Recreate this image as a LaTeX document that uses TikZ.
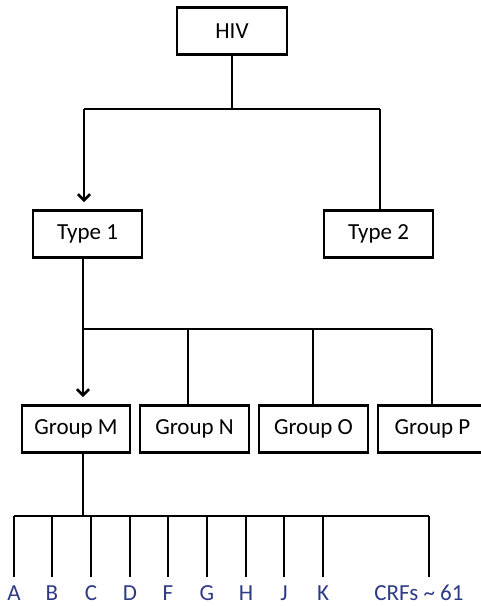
\documentclass[tikz,border=0pt]{standalone}
\usepackage{fontspec}
\setmainfont{Carlito}
\usetikzlibrary{arrows.meta}
\definecolor{leafblue}{RGB}{47,58,135}

\begin{document}
\begin{tikzpicture}[x=1pt, y=-1pt, line width=2.8pt,
  box/.style={draw, line width=2.3pt, inner sep=0pt, minimum height=47pt,
              font=\fontsize{23}{27}\selectfont},
  leaf/.style={text=leafblue, inner sep=0pt, anchor=base,
               font=\fontsize{23}{27}\selectfont},
  arr/.style={-{Straight Barb[length=6pt, width=12pt, line width=2.6pt]}}]
\useasboundingbox (0,0) rectangle (481,606);
\clip (0,0) rectangle (481,606);

% boxes
\node[box, minimum width=110pt] (hiv) at (232,31) {HIV};
\node[box, minimum width=109pt] (t1) at (87.5,234) {Type 1};
\node[box, minimum width=109pt] (t2) at (378.5,234) {Type 2};
\node[box, minimum width=108pt] (gm) at (76,429) {Group M};
\node[box, minimum width=109pt] (gn) at (194.5,429) {Group N};
\node[box, minimum width=109pt] (go) at (313.5,429) {Group O};
\node[box, minimum width=109pt] (gp) at (432.5,429) {Group P};

% HIV -> types
\coordinate (hj) at (232,109);
\coordinate (hl) at (84,109);
\coordinate (hr) at (380,109);
\coordinate (hlend) at (84,202);
\draw (hiv.south) -- (hj);
\draw (hl) -- (hr);
\draw[arr] (hl) -- (hlend);
\draw (hr) -- (hr |- t2.north);

% Type 1 -> groups
\coordinate (ts) at (83,258);
\coordinate (tj) at (83,329);
\coordinate (tr) at (432,329);
\coordinate (tmend) at (83,397);
\draw (ts) -- (tj) -- (tr);
\draw[arr] (tj) -- (tmend);
\draw (188,329) -- (188,406);
\draw (313,329) -- (313,406);
\draw (tr) -- (432,406);

% Group M -> subtypes
\coordinate (gs) at (83,452);
\coordinate (gj) at (83,516);
\draw (gs) -- (gj);
\draw (14,516) -- (429,516);
\foreach \x/\t/\n in {14/A/a, 52/B/b, 91/C/c, 130/D/d, 168/F/f,
                     207/G/g, 246/H/h, 284/J/j, 323/K/k} {
  \coordinate (s\n) at (\x,516);
  \draw (s\n) -- (\x,577);
  \node[leaf] (l\n) at (\x,600) {\t};
}
\coordinate (scrf) at (429,516);
\draw (scrf) -- (429,577);
\node[leaf] (lcrf) at (419,600) {CRFs \textasciitilde\ 61};
\end{tikzpicture}
\end{document}
